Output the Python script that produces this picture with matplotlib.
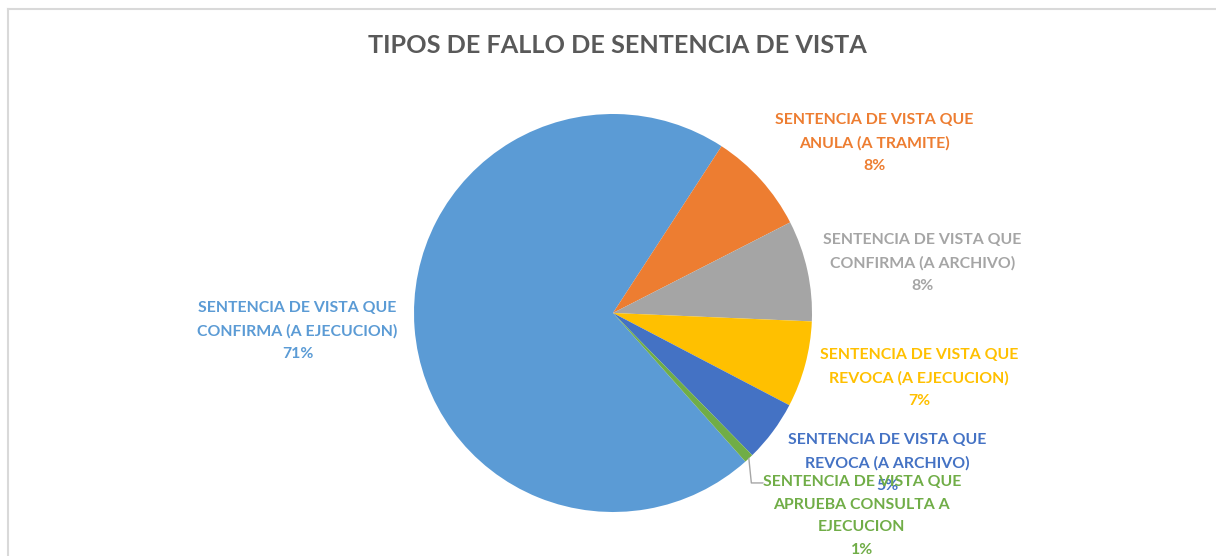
import matplotlib.pyplot as plt
import numpy as np

# data (Excel order, light blue first)
categories = [
    'SENTENCIA DE VISTA QUE\nCONFIRMA (A EJECUCION)',
    'SENTENCIA DE VISTA QUE\nANULA (A TRAMITE)',
    'SENTENCIA DE VISTA QUE\nCONFIRMA (A ARCHIVO)',
    'SENTENCIA DE VISTA QUE\nREVOCA (A EJECUCION)',
    'SENTENCIA DE VISTA QUE\nREVOCA (A ARCHIVO)',
    'SENTENCIA DE VISTA QUE\nAPRUEBA CONSULTA A\nEJECUCION',
]
shares = [70.8, 8.3, 8.2, 7.0, 5.0, 0.75]
colors = ['#5B9BD5', '#ED7D31', '#A5A5A5', '#FFC000', '#4472C4', '#70AD47']

# label placement, in pie radii from the centre
label_pos = [(-1.585, -0.09), (1.314, 0.854), (1.555, 0.251),
             (1.538, -0.327), (1.379, -0.754), (1.25, -1.02)]

W, H = 1216, 556
cx, cy, R = 613, 556 - 313, 199
font = 'Lato'

fig = plt.figure(figsize=(W / 100, H / 100), dpi=100)
ax = fig.add_axes([0, 0, 1, 1])

wedges, _ = ax.pie(shares, colors=colors, startangle=90 - 138.3, counterclock=False,
                   center=(cx, cy), radius=R, wedgeprops=dict(linewidth=0))
ax.set_xlim(0, W)
ax.set_ylim(0, H)
ax.set_aspect('equal')
ax.axis('off')

total = sum(shares)
for i, (cat, val) in enumerate(zip(categories, shares)):
    dx, dy = label_pos[i]
    ax.text(cx + dx * R, cy + dy * R, f'{cat}\n{round(val / total * 100):.0f}%',
            ha='center', va='center', color=colors[i], fontsize=11.4,
            fontweight='bold', family=font, linespacing=1.78)

# leader line for the small green slice
w = wedges[5]
mid = np.deg2rad((w.theta1 + w.theta2) / 2)
ex, ey = cx + R * np.cos(mid), cy + R * np.sin(mid)
ax.plot([ex, ex + 2.5, ex + 14], [ey, cy - 0.854 * R, cy - 0.854 * R],
        color='#A6A6A6', lw=1)

fig.text(617.5 / W, 1 - 53 / H, 'TIPOS DE FALLO DE SENTENCIA DE VISTA',
         ha='center', va='baseline', fontsize=18.2, fontweight='bold',
         color='#595959', family=font)

# chart area border (top and left visible)
fig.add_artist(plt.Line2D([8 / W, 1], [1 - 8.5 / H, 1 - 8.5 / H], color='#D9D9D9', lw=1.5))
fig.add_artist(plt.Line2D([8 / W, 8 / W], [0, 1 - 8.5 / H], color='#D9D9D9', lw=1.5))

fig.savefig('out.png', dpi=100, facecolor='white')
